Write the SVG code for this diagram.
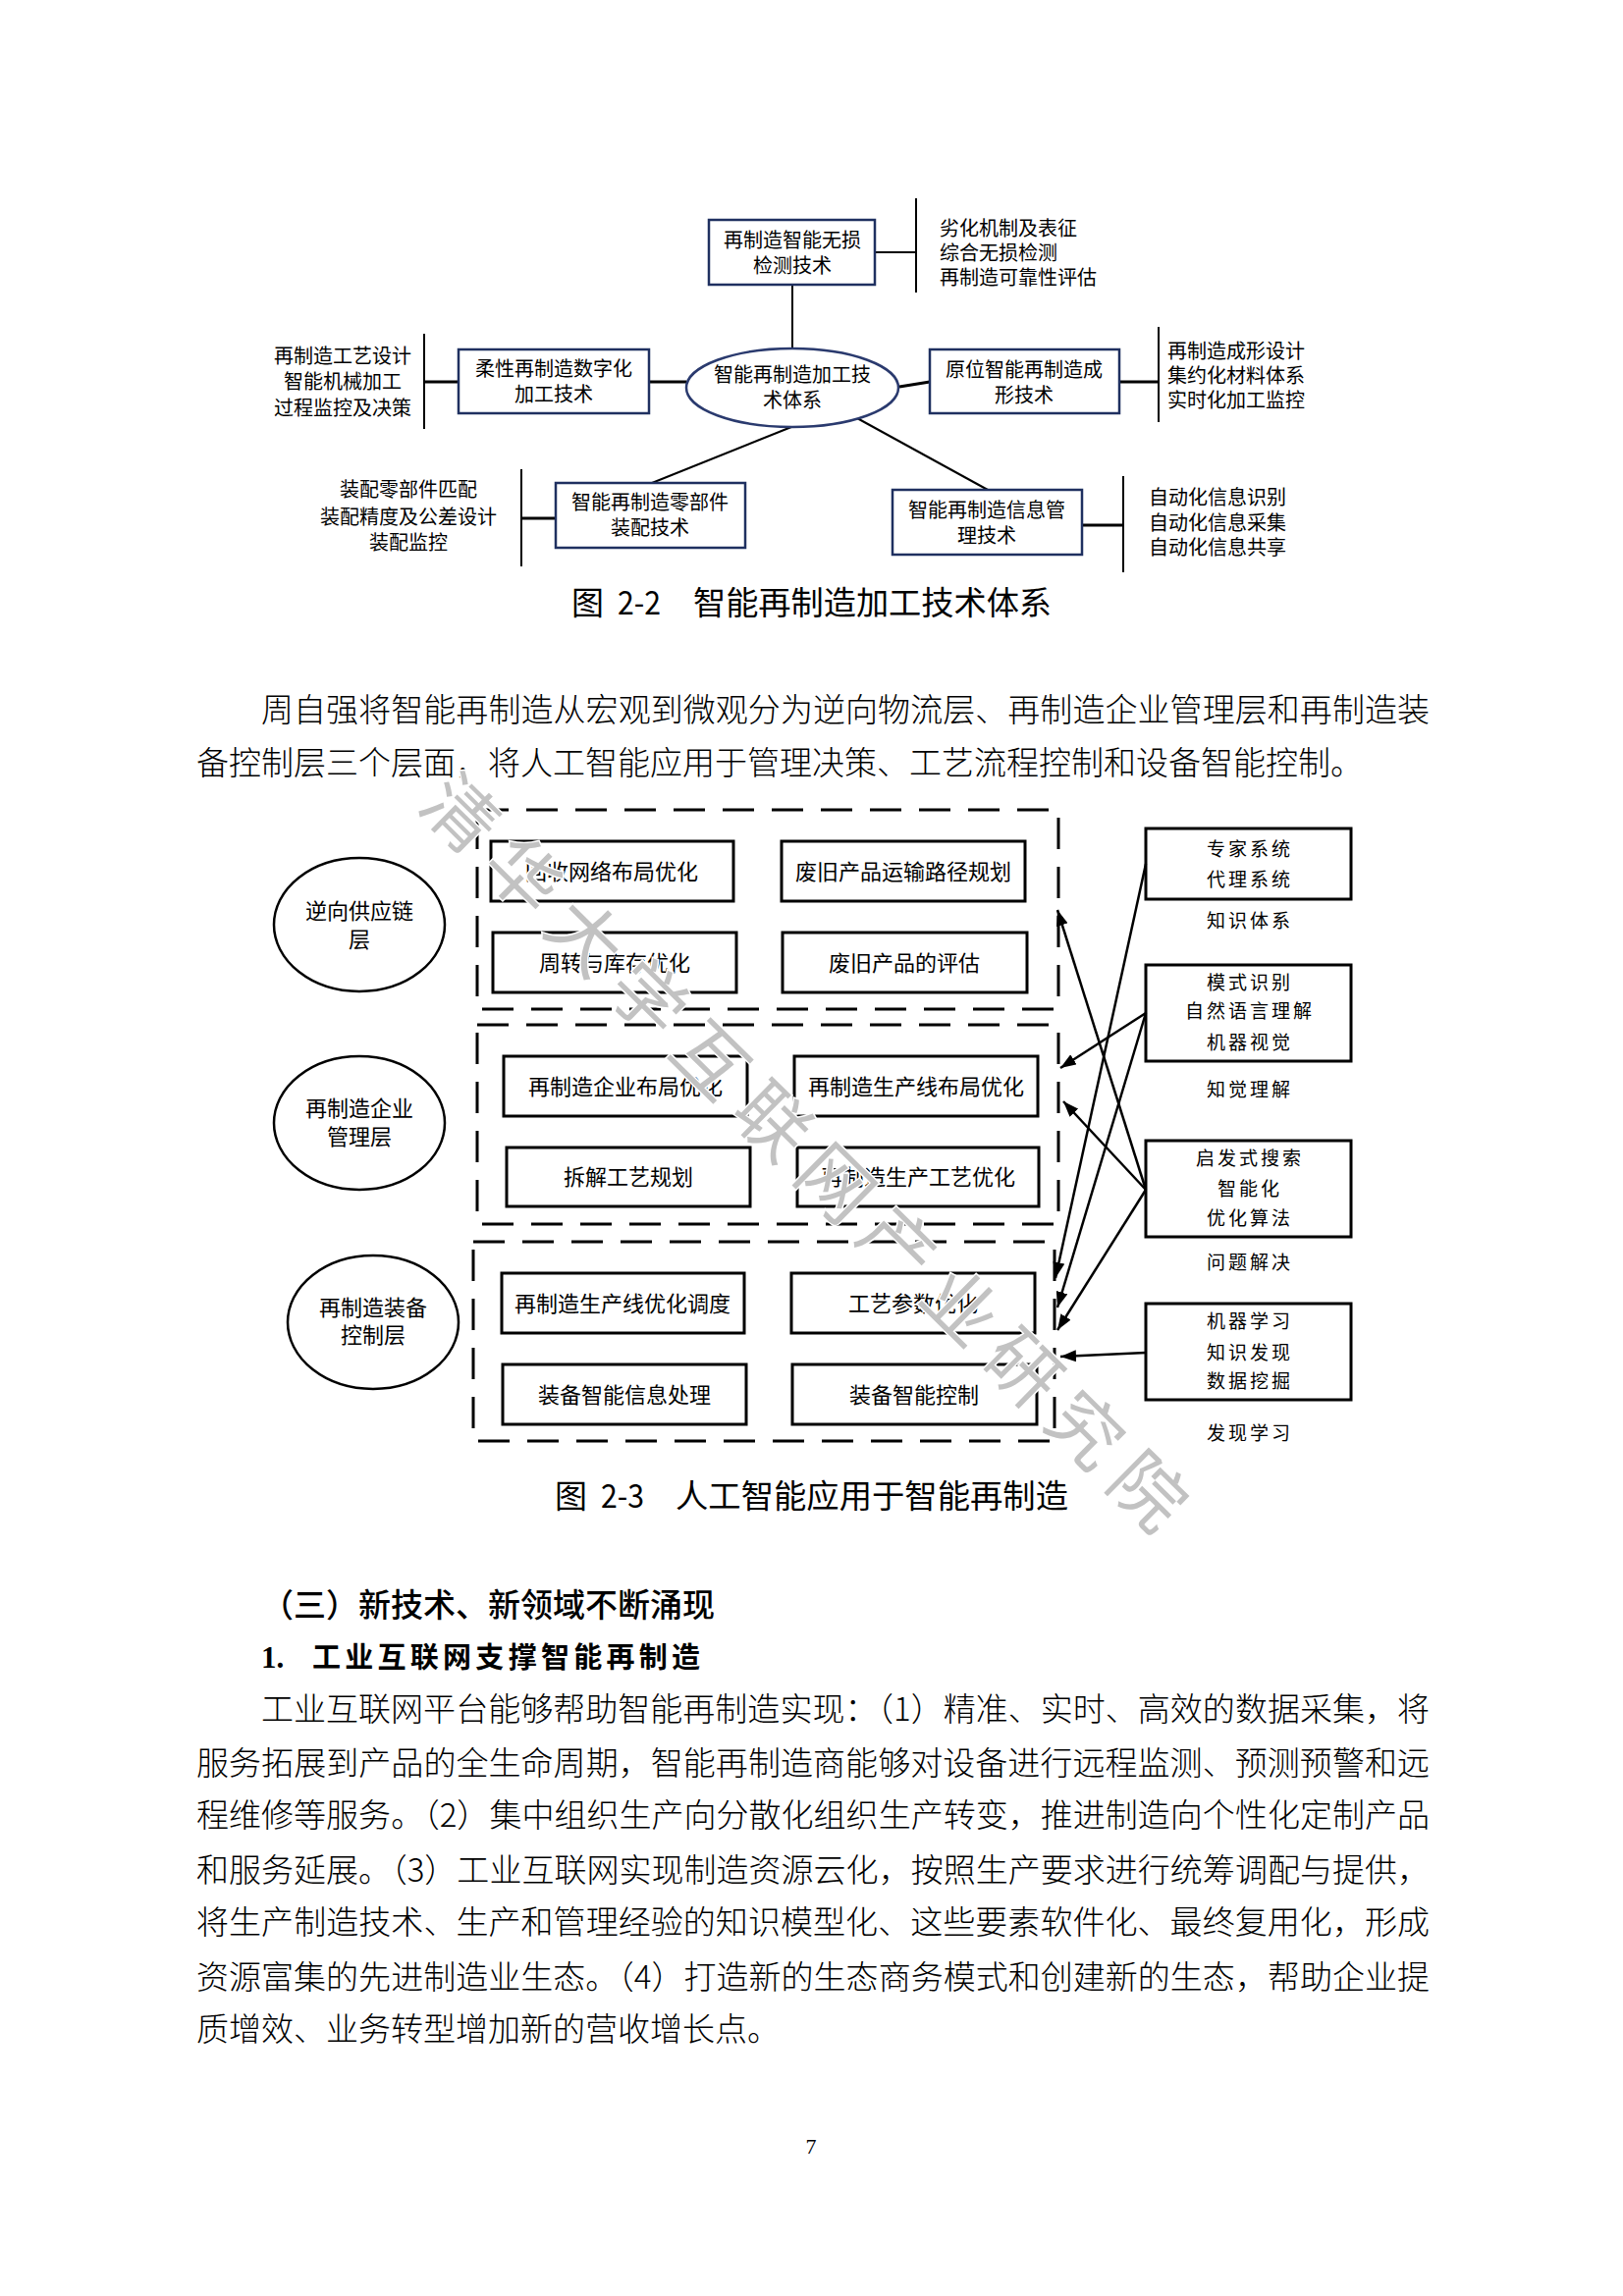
<svg xmlns="http://www.w3.org/2000/svg" width="1653" height="2339" viewBox="0 0 1653 2339">
<style>
text{font-family:"Noto Sans CJK SC","Noto Sans",sans-serif;fill:#000}
.d1{font-size:20px;text-anchor:middle}
.d1l{font-size:20px}
.bx1{fill:#fff;stroke:#1f3060;stroke-width:2.5}
.ln{stroke:#000;stroke-width:2;fill:none}
.ln3{stroke:#000;stroke-width:3;fill:none}
.lay{fill:none;stroke:#000;stroke-width:3;stroke-dasharray:32 18}
.bx2{fill:#fff;stroke:#000;stroke-width:3}
.d2{font-size:22px;text-anchor:middle}
.k{font-size:19px;text-anchor:middle;letter-spacing:3px}
.ar{stroke:#000;stroke-width:2.5;fill:none;marker-end:url(#ah)}
.body{font-size:33px;font-weight:300}
.cap{font-size:33px}
.wm{font-size:74px;fill:#c2c2c2;stroke:#fff;stroke-width:3;paint-order:stroke;letter-spacing:15.4px}
</style>
<defs>
<marker id="ah" viewBox="0 0 16 12" refX="16" refY="6" markerWidth="16" markerHeight="12" markerUnits="userSpaceOnUse" orient="auto">
<path d="M0,0 L16,6 L0,12 z" fill="#000"/>
</marker>
</defs>
<rect x="0" y="0" width="1653" height="2339" fill="#fff"/>

<!-- Figure 2-2 -->
<g id="fig22-connectors">
<line class="ln" x1="807" y1="290" x2="807" y2="355"/>
<line class="ln3" x1="661" y1="389" x2="699" y2="389"/>
<line class="ln3" x1="916" y1="394" x2="947" y2="389"/>
<line class="ln" x1="806" y1="435" x2="664" y2="492"/>
<line class="ln" x1="873" y1="426" x2="1006" y2="499"/>
<line class="ln" x1="891" y1="257" x2="933" y2="257"/>
<line class="ln" x1="933" y1="202" x2="933" y2="298"/>
<line class="ln3" x1="432" y1="389" x2="467" y2="389"/>
<line class="ln" x1="432" y1="340" x2="432" y2="437"/>
<line class="ln3" x1="1140" y1="389" x2="1180" y2="389"/>
<line class="ln" x1="1180" y1="333" x2="1180" y2="430"/>
<line class="ln3" x1="531" y1="528" x2="566" y2="528"/>
<line class="ln" x1="531" y1="478" x2="531" y2="577"/>
<line class="ln3" x1="1102" y1="535" x2="1144" y2="535"/>
<line class="ln" x1="1144" y1="485" x2="1144" y2="583"/>
</g>
<g id="n-center">
<ellipse cx="807" cy="395" rx="108" ry="40" fill="#fff" stroke="#2a3a6e" stroke-width="2.5"/>
<text class="d1" x="807" y="389">智能再制造加工技</text>
<text class="d1" x="807" y="415">术体系</text>
</g>
<g id="n-detect">
<rect class="bx1" x="722" y="224" width="169" height="66"/>
<text class="d1" x="807" y="252">再制造智能无损</text>
<text class="d1" x="807" y="278">检测技术</text>
</g>
<g id="n-detect-items">
<text class="d1l" x="957" y="240">劣化机制及表征</text>
<text class="d1l" x="957" y="265">综合无损检测</text>
<text class="d1l" x="957" y="290">再制造可靠性评估</text>
</g>
<g id="n-flex">
<rect class="bx1" x="467" y="356" width="194" height="65"/>
<text class="d1" x="564" y="383">柔性再制造数字化</text>
<text class="d1" x="564" y="409">加工技术</text>
</g>
<g id="n-flex-items">
<text class="d1" x="349" y="370">再制造工艺设计</text>
<text class="d1" x="349" y="396">智能机械加工</text>
<text class="d1" x="349" y="423">过程监控及决策</text>
</g>
<g id="n-insitu">
<rect class="bx1" x="947" y="356" width="193" height="65"/>
<text class="d1" x="1043" y="384">原位智能再制造成</text>
<text class="d1" x="1043" y="410">形技术</text>
</g>
<g id="n-insitu-items">
<text class="d1l" x="1189" y="365">再制造成形设计</text>
<text class="d1l" x="1189" y="390">集约化材料体系</text>
<text class="d1l" x="1189" y="415">实时化加工监控</text>
</g>
<g id="n-assembly">
<rect class="bx1" x="566" y="492" width="193" height="66"/>
<text class="d1" x="662" y="519">智能再制造零部件</text>
<text class="d1" x="662" y="545">装配技术</text>
</g>
<g id="n-assembly-items">
<text class="d1" x="416" y="506">装配零部件匹配</text>
<text class="d1" x="416" y="534">装配精度及公差设计</text>
<text class="d1" x="416" y="560">装配监控</text>
</g>
<g id="n-info">
<rect class="bx1" x="909" y="499" width="193" height="66"/>
<text class="d1" x="1005" y="527">智能再制造信息管</text>
<text class="d1" x="1005" y="553">理技术</text>
</g>
<g id="n-info-items">
<text class="d1l" x="1170" y="514">自动化信息识别</text>
<text class="d1l" x="1170" y="540">自动化信息采集</text>
<text class="d1l" x="1170" y="565">自动化信息共享</text>
</g>
<g id="cap22">
<text class="cap" x="582" y="626">图</text>
<text class="cap" x="629" y="626" textLength="44" lengthAdjust="spacingAndGlyphs">2-2</text>
<text class="cap" x="706" y="626" textLength="365" lengthAdjust="spacingAndGlyphs">智能再制造加工技术体系</text>
</g>

<!-- Body paragraph 1 -->
<g id="para1">
<text class="body" x="266" y="735" textLength="1190" lengthAdjust="spacing">周自强将智能再制造从宏观到微观分为逆向物流层、再制造企业管理层和再制造装</text>
<text class="body" x="200" y="789">备控制层三个层面，将人工智能应用于管理决策、工艺流程控制和设备智能控制。</text>
</g>

<!-- Figure 2-3 -->
<g id="layer1">
<rect class="lay" x="486" y="825" width="592" height="203"/>
<ellipse cx="366" cy="942" rx="87" ry="68" fill="#fff" stroke="#000" stroke-width="2.5"/>
<text class="d2" x="366" y="936">逆向供应链</text>
<text class="d2" x="366" y="965">层</text>
</g>
<g id="layer2">
<rect class="lay" x="486" y="1044" width="592" height="203"/>
<ellipse cx="366" cy="1144" rx="87" ry="68" fill="#fff" stroke="#000" stroke-width="2.5"/>
<text class="d2" x="366" y="1137">再制造企业</text>
<text class="d2" x="366" y="1166">管理层</text>
</g>
<g id="layer3">
<rect class="lay" x="482" y="1265" width="592" height="203"/>
<ellipse cx="380" cy="1347" rx="87" ry="68" fill="#fff" stroke="#000" stroke-width="2.5"/>
<text class="d2" x="380" y="1340">再制造装备</text>
<text class="d2" x="380" y="1368">控制层</text>
</g>
<g id="b11"><rect class="bx2" x="500" y="857" width="247" height="61"/><text class="d2" x="623" y="896">回收网络布局优化</text></g>
<g id="b12"><rect class="bx2" x="796" y="857" width="248" height="61"/><text class="d2" x="920" y="896">废旧产品运输路径规划</text></g>
<g id="b13"><rect class="bx2" x="502" y="950" width="248" height="61"/><text class="d2" x="626" y="989">周转与库存优化</text></g>
<g id="b14"><rect class="bx2" x="797" y="950" width="249" height="61"/><text class="d2" x="921" y="989">废旧产品的评估</text></g>
<g id="b21"><rect class="bx2" x="513" y="1076" width="248" height="61"/><text class="d2" x="637" y="1115">再制造企业布局优化</text></g>
<g id="b22"><rect class="bx2" x="809" y="1076" width="248" height="61"/><text class="d2" x="933" y="1115">再制造生产线布局优化</text></g>
<g id="b23"><rect class="bx2" x="516" y="1169" width="248" height="60"/><text class="d2" x="640" y="1207">拆解工艺规划</text></g>
<g id="b24"><rect class="bx2" x="812" y="1169" width="246" height="60"/><text class="d2" x="935" y="1207">再制造生产工艺优化</text></g>
<g id="b31"><rect class="bx2" x="511" y="1297" width="247" height="61"/><text class="d2" x="634" y="1336">再制造生产线优化调度</text></g>
<g id="b32"><rect class="bx2" x="806" y="1297" width="248" height="61"/><text class="d2" x="930" y="1336">工艺参数优化</text></g>
<g id="b33"><rect class="bx2" x="512" y="1390" width="248" height="61"/><text class="d2" x="636" y="1429">装备智能信息处理</text></g>
<g id="b34"><rect class="bx2" x="807" y="1390" width="249" height="61"/><text class="d2" x="931" y="1429">装备智能控制</text></g>

<g id="k1">
<rect class="bx2" x="1167" y="844" width="209" height="72"/>
<text class="k" x="1273" y="872">专家系统</text>
<text class="k" x="1273" y="903">代理系统</text>
<text class="k" x="1273" y="945">知识体系</text>
</g>
<g id="k2">
<rect class="bx2" x="1167" y="983" width="209" height="98"/>
<text class="k" x="1273" y="1008">模式识别</text>
<text class="k" x="1273" y="1037">自然语言理解</text>
<text class="k" x="1273" y="1069">机器视觉</text>
<text class="k" x="1273" y="1117">知觉理解</text>
</g>
<g id="k3">
<rect class="bx2" x="1167" y="1162" width="209" height="98"/>
<text class="k" x="1273" y="1187">启发式搜索</text>
<text class="k" x="1273" y="1218">智能化</text>
<text class="k" x="1273" y="1248">优化算法</text>
<text class="k" x="1273" y="1293">问题解决</text>
</g>
<g id="k4">
<rect class="bx2" x="1167" y="1328" width="209" height="98"/>
<text class="k" x="1273" y="1353">机器学习</text>
<text class="k" x="1273" y="1385">知识发现</text>
<text class="k" x="1273" y="1414">数据挖掘</text>
<text class="k" x="1273" y="1467">发现学习</text>
</g>
<g id="fig23-connectors">
<line class="ar" x1="1167" y1="880" x2="1075" y2="1302"/>
<line class="ar" x1="1167" y1="1032" x2="1080" y2="1088"/>
<line class="ar" x1="1167" y1="1032" x2="1077" y2="1332"/>
<line class="ar" x1="1167" y1="1212" x2="1077" y2="927"/>
<line class="ar" x1="1167" y1="1212" x2="1083" y2="1122"/>
<line class="ar" x1="1167" y1="1212" x2="1077" y2="1355"/>
<line class="ar" x1="1167" y1="1378" x2="1080" y2="1382"/>
</g>
<g id="cap23">
<text class="cap" x="565" y="1536">图</text>
<text class="cap" x="612" y="1536" textLength="44" lengthAdjust="spacingAndGlyphs">2-3</text>
<text class="cap" x="688" y="1536" textLength="400" lengthAdjust="spacingAndGlyphs">人工智能应用于智能再制造</text>
</g>

<!-- Section text -->
<g id="section">
<text x="266" y="1647" style="font-size:33px;font-weight:500">（三）新技术、新领域不断涌现</text>
<text x="266" y="1699" style="font-family:'Liberation Serif',serif;font-size:31px;font-weight:bold">1.</text>
<text x="318" y="1699" style="font-size:29px;font-weight:bold" textLength="395" lengthAdjust="spacing">工业互联网支撑智能再制造</text>
<text class="body" x="266" y="1753" textLength="1190" lengthAdjust="spacing">工业互联网平台能够帮助智能再制造实现：（1）精准、实时、高效的数据采集，将</text>
<text class="body" x="200" y="1808" textLength="1256" lengthAdjust="spacing">服务拓展到产品的全生命周期，智能再制造商能够对设备进行远程监测、预测预警和远</text>
<text class="body" x="200" y="1861" textLength="1256" lengthAdjust="spacing">程维修等服务。（2）集中组织生产向分散化组织生产转变，推进制造向个性化定制产品</text>
<text class="body" x="200" y="1917" textLength="1256" lengthAdjust="spacing">和服务延展。（3）工业互联网实现制造资源云化，按照生产要求进行统筹调配与提供，</text>
<text class="body" x="200" y="1970" textLength="1256" lengthAdjust="spacing">将生产制造技术、生产和管理经验的知识模型化、这些要素软件化、最终复用化，形成</text>
<text class="body" x="200" y="2026" textLength="1256" lengthAdjust="spacing">资源富集的先进制造业生态。（4）打造新的生态商务模式和创建新的生态，帮助企业提</text>
<text class="body" x="200" y="2079">质增效、业务转型增加新的营收增长点。</text>
</g>
<text x="826" y="2194" text-anchor="middle" style="font-family:'Liberation Serif',serif;font-size:22px">7</text>

<!-- Watermark -->
<text class="wm" transform="translate(424,822) rotate(44.6)">清华大学互联网产业研究院</text>
</svg>
